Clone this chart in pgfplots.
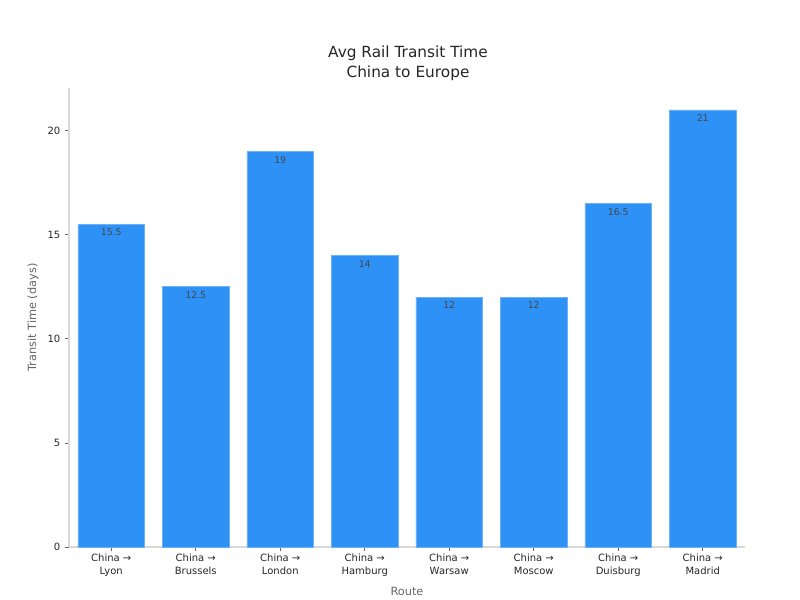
\documentclass[border=0pt]{standalone}
\usepackage{fontspec}
\setmainfont{DejaVu Sans}
\usepackage{pgfplots}
\pgfplotsset{compat=1.18}
\definecolor{barblue}{HTML}{2E91F6}
\definecolor{spine}{HTML}{D9D9D9}
\definecolor{txt}{HTML}{262626}
\definecolor{lbl}{HTML}{666666}
\begin{document}
\begin{tikzpicture}[x=0.75pt,y=0.75pt]
\begin{axis}[
  at={(0,0)}, anchor=south west,
  scale only axis,
  width=507pt, height=344.25pt,
  xmin=-0.5, xmax=7.5, ymin=0, ymax=22.05,
  axis x line*=bottom, axis y line*=left,
  axis line style={spine, line width=0.8pt},
  ybar, bar width=0.79,
  xtick=data,
  xticklabels={{China →\\Lyon},{China →\\Brussels},{China →\\London},{China →\\Hamburg},{China →\\Warsaw},{China →\\Moscow},{China →\\Duisburg},{China →\\Madrid}},
  ytick={0,5,10,15,20},
  tick align=outside,
  major tick length=3pt,
  tick style={color=lbl, line width=0.6pt},
  x tick label style={font=\fontsize{7.5}{9.5}\selectfont, text=txt, align=center, yshift=1pt},
  y tick label style={font=\fontsize{7.5}{9}\selectfont, text=txt},
  /pgf/number format/assume math mode=true,
  xlabel={Route}, ylabel={Transit Time (days)},
  xlabel style={font=\fontsize{8.5}{10}\selectfont, text=lbl, yshift=-1pt},
  ylabel style={font=\fontsize{8.5}{10}\selectfont, text=lbl, yshift=0pt},
  nodes near coords,
  every node near coord/.append style={anchor=north, font=\fontsize{7}{8}\selectfont, text=txt!85},
  point meta=explicit symbolic,
  enlarge x limits=false,
  clip=false,
]
\addplot[fill=barblue, draw=barblue!70!white, line width=0.5pt] coordinates {
  (0,15.5) [15.5]
  (1,12.5) [12.5]
  (2,19) [19]
  (3,14) [14]
  (4,12) [12]
  (5,12) [12]
  (6,16.5) [16.5]
  (7,21) [21]
};
\end{axis}
\node[font=\fontsize{11.5}{15}\selectfont, text=txt, align=center] at (339,484) {Avg Rail Transit Time\\China to Europe};
\pgfresetboundingbox
\useasboundingbox (-69,-53) rectangle (731,547);
\end{tikzpicture}
\end{document}
